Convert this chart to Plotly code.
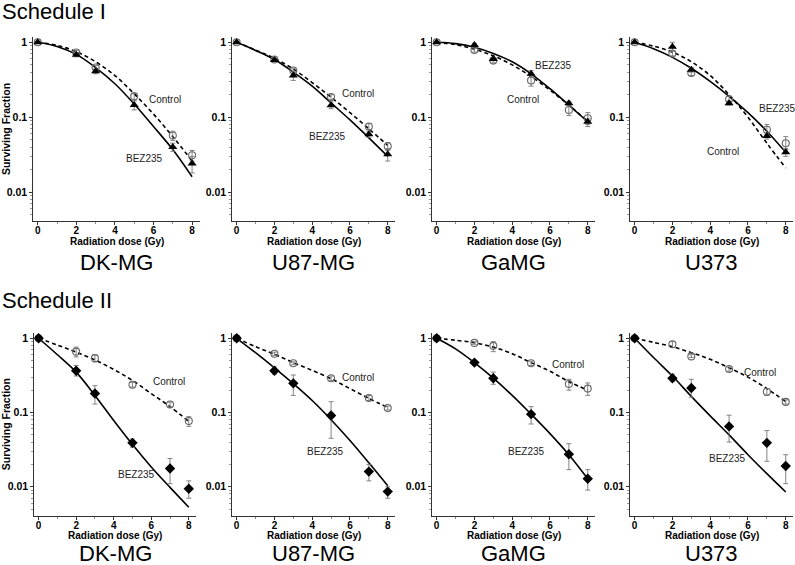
import math
import plotly.graph_objects as go

W, H = 795, 565

cell_lines = ["DK-MG", "U87-MG", "GaMG", "U373"]
schedules = ["Schedule I", "Schedule II"]
doses = [0, 2, 3, 5, 7, 8]
fit_doses = [0, 1, 2, 3, 4, 5, 6, 7, 8]
x_ticks = [0, 2, 4, 6, 8]
y_ticks = [0.01, 0.1, 1]
y_tick_text = ["0.01", "0.1", "1"]

# ---------- Schedule I ----------
s1_ctrl = [
    [1, 0.73, 0.46, 0.19, 0.057, 0.031],
    [1, 0.59, 0.42, 0.186, 0.075, 0.041],
    [1, 0.79, 0.57, 0.31, 0.125, 0.097],
    [1, 0.71, 0.39, 0.174, 0.068, 0.045],
]
s1_ctrl_lo = [
    [0.97, 0.68, 0.43, 0.17, 0.049, 0.026],
    [0.97, 0.56, 0.39, 0.17, 0.068, 0.036],
    [0.97, 0.74, 0.53, 0.26, 0.105, 0.080],
    [0.97, 0.66, 0.36, 0.16, 0.058, 0.037],
]
s1_ctrl_hi = [
    [1.03, 0.78, 0.49, 0.21, 0.065, 0.036],
    [1.03, 0.62, 0.45, 0.20, 0.082, 0.046],
    [1.03, 0.84, 0.61, 0.36, 0.145, 0.115],
    [1.03, 0.76, 0.42, 0.19, 0.080, 0.055],
]
s1_bez = [
    [1, 0.68, 0.41, 0.145, 0.040, 0.024],
    [1, 0.58, 0.36, 0.144, 0.059, 0.032],
    [1, 0.92, 0.60, 0.38, 0.154, 0.087],
    [1, 0.875, 0.43, 0.154, 0.056, 0.034],
]
s1_bez_lo = [
    [0.97, 0.64, 0.38, 0.125, 0.035, 0.018],
    [0.97, 0.55, 0.31, 0.13, 0.054, 0.026],
    [0.97, 0.87, 0.57, 0.34, 0.145, 0.075],
    [0.97, 0.76, 0.40, 0.145, 0.051, 0.030],
]
s1_bez_hi = [
    [1.03, 0.72, 0.44, 0.165, 0.045, 0.030],
    [1.03, 0.61, 0.41, 0.16, 0.064, 0.038],
    [1.03, 0.97, 0.63, 0.42, 0.163, 0.095],
    [1.03, 1.0, 0.46, 0.165, 0.061, 0.038],
]
s1_ctrl_fit = [
    [1, 0.91, 0.75, 0.55, 0.36, 0.205, 0.11, 0.055, 0.026],
    [1, 0.79, 0.61, 0.44, 0.29, 0.185, 0.115, 0.07, 0.042],
    [1, 0.93, 0.81, 0.66, 0.50, 0.35, 0.23, 0.145, 0.088],
    [1, 0.89, 0.74, 0.55, 0.36, 0.20, 0.10, 0.045, 0.021],
]
s1_bez_fit = [
    [1, 0.88, 0.69, 0.46, 0.28, 0.15, 0.075, 0.037, 0.016],
    [1, 0.78, 0.59, 0.40, 0.26, 0.155, 0.092, 0.053, 0.030],
    [1, 0.96, 0.86, 0.71, 0.55, 0.38, 0.24, 0.145, 0.087],
    [1, 0.82, 0.63, 0.45, 0.30, 0.19, 0.115, 0.065, 0.034],
]

# ---------- Schedule II ----------
s2_ctrl = [
    [1, 0.66, 0.54, 0.237, 0.128, 0.077],
    [1, 0.62, 0.46, 0.29, 0.157, 0.115],
    [1, 0.866, 0.79, 0.46, 0.242, 0.21],
    [1, 0.83, 0.57, 0.385, 0.19, 0.139],
]
s2_ctrl_lo = [
    [0.96, 0.56, 0.48, 0.22, 0.118, 0.065],
    [0.97, 0.59, 0.44, 0.27, 0.145, 0.108],
    [0.97, 0.83, 0.66, 0.43, 0.20, 0.17],
    [0.97, 0.75, 0.55, 0.36, 0.17, 0.130],
]
s2_ctrl_hi = [
    [1.04, 0.76, 0.60, 0.255, 0.138, 0.088],
    [1.03, 0.65, 0.48, 0.31, 0.17, 0.122],
    [1.03, 0.90, 0.90, 0.49, 0.28, 0.25],
    [1.03, 0.90, 0.60, 0.41, 0.21, 0.148],
]
s2_bez = [
    [1, 0.365, 0.18, 0.039, 0.0176, 0.0094],
    [1, 0.365, 0.247, 0.091, 0.016, 0.0086],
    [1, 0.47, 0.29, 0.095, 0.0274, 0.0128],
    [1, 0.29, 0.214, 0.065, 0.039, 0.019],
]
s2_bez_lo = [
    [0.96, 0.31, 0.13, 0.034, 0.011, 0.007],
    [0.96, 0.33, 0.17, 0.045, 0.012, 0.007],
    [0.96, 0.44, 0.24, 0.07, 0.017, 0.009],
    [0.96, 0.26, 0.16, 0.04, 0.022, 0.011],
]
s2_bez_hi = [
    [1.04, 0.43, 0.23, 0.044, 0.024, 0.012],
    [1.04, 0.41, 0.32, 0.14, 0.020, 0.010],
    [1.04, 0.50, 0.35, 0.12, 0.038, 0.017],
    [1.04, 0.33, 0.28, 0.092, 0.057, 0.027],
]
s2_ctrl_fit = [
    [1, 0.81, 0.65, 0.51, 0.38, 0.27, 0.18, 0.12, 0.076],
    [1, 0.77, 0.61, 0.47, 0.37, 0.285, 0.21, 0.155, 0.117],
    [1, 0.94, 0.87, 0.76, 0.62, 0.47, 0.36, 0.26, 0.20],
    [1, 0.88, 0.77, 0.64, 0.52, 0.40, 0.30, 0.21, 0.14],
]
s2_bez_fit = [
    [1, 0.60, 0.35, 0.17, 0.078, 0.037, 0.0185, 0.0098, 0.0053],
    [1, 0.64, 0.40, 0.245, 0.145, 0.08, 0.042, 0.021, 0.0103],
    [1, 0.72, 0.47, 0.29, 0.17, 0.095, 0.052, 0.027, 0.0128],
    [1, 0.55, 0.31, 0.165, 0.09, 0.05, 0.027, 0.015, 0.0085],
]

# label positions (dose, surviving fraction) per panel
s1_ctrl_label = [(6.6, 0.17), (6.43, 0.21), (4.56, 0.17), (4.69, 0.035)]
s1_bez_label = [(5.55, 0.028), (4.8, 0.056), (6.18, 0.49), (7.54, 0.13)]
s2_ctrl_label = [(6.93, 0.26), (6.45, 0.30), (6.98, 0.44), (6.66, 0.35)]
s2_bez_label = [(5.2, 0.0148), (4.68, 0.030), (4.74, 0.030), (4.92, 0.024)]

FONT = "Liberation Sans, Arial, sans-serif"

# layout geometry in pixels
col_left = [[33.3, 232.3, 432.3, 630.3], [34.3, 232.3, 432.3, 630.3]]
col_width = [[166.5, 163, 163, 163], [162, 163, 163, 163]]
row_top = [36.7, 332.7]
row_bottom = [221.3, 515.7]
title_off = [20, 20]
name_y = [262, 553]
x_range = [-0.23, 8.4]
y_range = [-2.39, 0.075]

minor_vals = [m * 10 ** e for e in (-3, -2, -1) for m in range(2, 10)]

fig = go.Figure()
annotations = []

rows = [
    (s1_ctrl, s1_ctrl_lo, s1_ctrl_hi, s1_bez, s1_bez_lo, s1_bez_hi, s1_ctrl_fit, s1_bez_fit,
     s1_ctrl_label, s1_bez_label, "triangle-up", 8),
    (s2_ctrl, s2_ctrl_lo, s2_ctrl_hi, s2_bez, s2_bez_lo, s2_bez_hi, s2_ctrl_fit, s2_bez_fit,
     s2_ctrl_label, s2_bez_label, "diamond", 8),
]

idx = 0
for r, (ctrl, clo, chi, bez, blo, bhi, cfit, bfit, clab, blab, bsym, bsize) in enumerate(rows):
    for c in range(4):
        idx += 1
        xa = "x" if idx == 1 else f"x{idx}"
        ya = "y" if idx == 1 else f"y{idx}"
        xkey = "xaxis" if idx == 1 else f"xaxis{idx}"
        ykey = "yaxis" if idx == 1 else f"yaxis{idx}"
        x0 = col_left[r][c] / W
        x1 = (col_left[r][c] + col_width[r][c]) / W
        y0 = 1 - row_bottom[r] / H
        y1 = 1 - row_top[r] / H

        fig.add_trace(go.Scatter(x=fit_doses, y=cfit[c], mode="lines", line_shape="spline",
                                 line=dict(color="black", width=1.6, dash="4px,3px"),
                                 xaxis=xa, yaxis=ya, showlegend=False, hoverinfo="skip"))
        fig.add_trace(go.Scatter(x=fit_doses, y=bfit[c], mode="lines", line_shape="spline",
                                 line=dict(color="black", width=1.6),
                                 xaxis=xa, yaxis=ya, showlegend=False, hoverinfo="skip"))
        fig.add_trace(go.Scatter(
            x=doses, y=ctrl[c], mode="markers",
            marker=dict(symbol="circle-open", size=7, color="#666666", line=dict(width=1.1)),
            error_y=dict(type="data", symmetric=False,
                         array=[h - v for h, v in zip(chi[c], ctrl[c])],
                         arrayminus=[v - l for l, v in zip(clo[c], ctrl[c])],
                         color="#777777", thickness=0.9, width=2.5),
            xaxis=xa, yaxis=ya, showlegend=False))
        fig.add_trace(go.Scatter(
            x=doses, y=bez[c], mode="markers",
            marker=dict(symbol=bsym, size=bsize, color="black"),
            error_y=dict(type="data", symmetric=False,
                         array=[h - v for h, v in zip(bhi[c], bez[c])],
                         arrayminus=[v - l for l, v in zip(blo[c], bez[c])],
                         color="#777777", thickness=0.9, width=2.5),
            xaxis=xa, yaxis=ya, showlegend=False))

        fig.layout[xkey] = dict(
            domain=[x0, x1], range=x_range, anchor=ya, automargin=False,
            tickvals=x_ticks, ticks="outside", ticklen=3, tickwidth=1, tickcolor="#333",
            showline=True, linecolor="#333", linewidth=1, showgrid=False, zeroline=False,
            ticklabelstandoff=-3,
            tickfont=dict(family=FONT, size=10, color="black", weight="bold"),
            minor=dict(tickvals=[1, 3, 5, 7], ticks="outside", ticklen=2, tickcolor="#888"),
        )
        fig.layout[ykey] = dict(
            domain=[y0, y1], type="log", range=y_range, anchor=xa, automargin=False,
            tickvals=y_ticks, ticktext=y_tick_text, ticks="outside", ticklen=3, tickwidth=1,
            tickcolor="#333", showline=True, linecolor="#333", linewidth=1,
            showgrid=False, zeroline=False,
            tickfont=dict(family=FONT, size=10.5, color="black", weight="bold"),
            minor=dict(tickvals=minor_vals, ticks="outside", ticklen=2, tickcolor="#999"),
            title=dict(text="Surviving Fraction" if c == 0 else "", standoff=3,
                       font=dict(family=FONT, size=10.5, color="black", weight="bold")),
        )

        # x-axis title
        annotations.append(dict(x=(x0 + x1) / 2, y=1 - (row_bottom[r] + title_off[r]) / H,
                                xref="paper", yref="paper", text="Radiation dose (Gy)",
                                showarrow=False, xanchor="center", yanchor="middle",
                                font=dict(family=FONT, size=10, color="black", weight="bold")))
        annotations.append(dict(x=clab[c][0], y=math.log10(clab[c][1]),
                                xref=xa, yref=ya, text="Control", showarrow=False,
                                font=dict(family=FONT, size=10, color="#222")))
        annotations.append(dict(x=blab[c][0], y=math.log10(blab[c][1]),
                                xref=xa, yref=ya, text="BEZ235", showarrow=False,
                                font=dict(family=FONT, size=10, color="#222")))
        annotations.append(dict(x=(x0 + x1) / 2, y=1 - name_y[r] / H,
                                xref="paper", yref="paper", text=cell_lines[c], showarrow=False,
                                font=dict(family=FONT, size=22, color="black"),
                                xanchor="center", yanchor="middle"))

for r, name in enumerate(schedules):
    annotations.append(dict(x=0, y=1 - (12 if r == 0 else 300) / H, xref="paper", yref="paper",
                            text=name, showarrow=False, xanchor="left", yanchor="middle",
                            font=dict(family=FONT, size=22, color="black")))

fig.update_layout(
    width=W, height=H, margin=dict(l=0, r=0, t=0, b=0, autoexpand=False),
    paper_bgcolor="white", plot_bgcolor="white",
    annotations=annotations, font=dict(family=FONT),
)

fig.write_html("out.html", config={"displayModeBar": False},
               post_script="document.body.style.margin='0';document.body.style.overflow='hidden';")
